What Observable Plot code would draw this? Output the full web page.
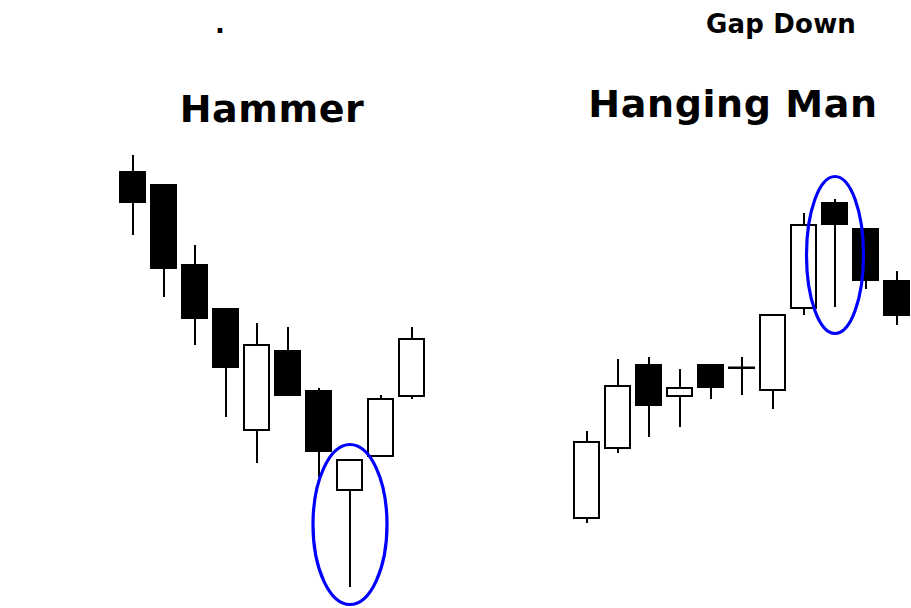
<!DOCTYPE html>
<html>
<head>
<meta charset="utf-8">
<script src="https://cdn.jsdelivr.net/npm/d3@7"></script>
<script src="https://cdn.jsdelivr.net/npm/@observablehq/plot@0.6"></script>
<style>
  html, body { margin: 0; padding: 0; background: #fff; }
  #root { position: relative; width: 911px; height: 608px; overflow: hidden; background: #fff; }
  .lbl { position: absolute; font-family: "DejaVu Sans", sans-serif; font-weight: bold; color: #000;
         white-space: nowrap; transform: translateX(-50%); line-height: 1; }
  .panel { position: absolute; top: 140px; }
</style>
</head>
<body>
<div id="root"></div>
<script>
// Titles
const topLabels = [".", "Gap Down"];
const panelTitles = ["Hammer", "Hanging Man"];

// Hammer panel (downtrend, hammer at index 7)
const hammerOpen  = [42.8, 41.5, 33.5, 29.1, 17.0, 24.9, 20.9, 11.0, 14.4, 20.4];
const hammerClose = [39.8, 33.2, 28.2, 23.3, 25.5, 20.5, 14.9, 14.0, 20.1, 26.1];
const hammerHigh  = [44.5, 41.5, 35.5, 29.1, 27.7, 27.3, 21.2, 14.0, 20.5, 27.3];
const hammerLow   = [36.5, 30.3, 25.5, 18.3, 13.7, 20.5, 12.3, 1.3, 14.4, 20.1];
const hammerHighlight = {i: 7, price: 7.6};

// Hanging Man panel (uptrend, hanging man at index 8)
const hangOpen  = [8.2, 15.2, 23.5, 20.4, 23.5, 23.2, 21.0, 29.2, 39.7, 37.1, 31.9];
const hangClose = [15.8, 21.4, 19.5, 21.2, 21.3, 23.25, 28.5, 37.5, 37.6, 32.0, 28.5];
const hangHigh  = [16.9, 24.1, 24.3, 23.1, 23.5, 24.3, 28.5, 38.7, 40.1, 37.1, 32.9];
const hangLow   = [7.7, 14.7, 16.3, 17.3, 20.1, 20.5, 19.1, 28.5, 29.3, 31.1, 27.5];
const hangHighlight = {i: 8, price: 34.55};

function ellipseSymbol(rx, ry) {
  const k = 0.5523;
  return {
    draw(ctx) {
      ctx.moveTo(rx, 0);
      ctx.bezierCurveTo(rx, k * ry, k * rx, ry, 0, ry);
      ctx.bezierCurveTo(-k * rx, ry, -rx, k * ry, -rx, 0);
      ctx.bezierCurveTo(-rx, -k * ry, -k * rx, -ry, 0, -ry);
      ctx.bezierCurveTo(k * rx, -ry, rx, -k * ry, rx, 0);
      ctx.closePath();
    }
  };
}

function panel(open, high, low, close, highlight, cfg) {
  const data = open.map((o, i) => ({i, open: o, close: close[i], high: high[i], low: low[i]}));
  return Plot.plot({
    width: cfg.width,
    height: 468,
    marginTop: 0,
    marginBottom: 8,
    marginLeft: cfg.marginLeft,
    marginRight: cfg.marginRight,
    style: {background: "transparent", overflow: "visible"},
    x: {type: "band", domain: d3.range(open.length), paddingInner: 0.2, paddingOuter: 0.1, axis: null},
    y: {domain: [0, 46], axis: null},
    marks: [
      Plot.ruleX(data, {x: "i", y1: "low", y2: "high", stroke: "black", strokeWidth: 2}),
      Plot.barY(data, {x: "i", y1: "open", y2: "close",
        fill: d => d.close >= d.open ? "white" : "black",
        stroke: "black", strokeWidth: 2}),
      Plot.dot([highlight], {x: "i", y: "price", symbol: ellipseSymbol(cfg.rx, cfg.ry),
        fill: "none", stroke: "#0000ff", strokeWidth: 3.2})
    ]
  });
}

const root = document.getElementById("root");

function addLabel(text, cx, top, size, spacing) {
  const d = document.createElement("div");
  d.className = "lbl";
  d.textContent = text;
  d.style.left = cx + "px";
  d.style.top = top + "px";
  d.style.fontSize = size + "px";
  d.style.letterSpacing = spacing + "px";
  root.appendChild(d);
}
addLabel(topLabels[0], 220, 11, 26, 0);
addLabel(topLabels[1], 781, 11, 26, 0.2);
addLabel(panelTitles[0], 272, 90, 38, 0.6);
addLabel(panelTitles[1], 733, 85, 38, 0.6);

const left = panel(hammerOpen, hammerHigh, hammerLow, hammerClose, hammerHighlight,
  {width: 455, marginLeft: 115.3, marginRight: 25.7, rx: 37, ry: 80});
left.classList.add("panel");
left.style.left = "0px";
root.appendChild(left);

const right = panel(hangOpen, hangHigh, hangLow, hangClose, hangHighlight,
  {width: 460, marginLeft: 114.1, marginRight: 1.6, rx: 28.5, ry: 78.5});
right.classList.add("panel");
right.style.left = "455px";
root.appendChild(right);
</script>
</body>
</html>
